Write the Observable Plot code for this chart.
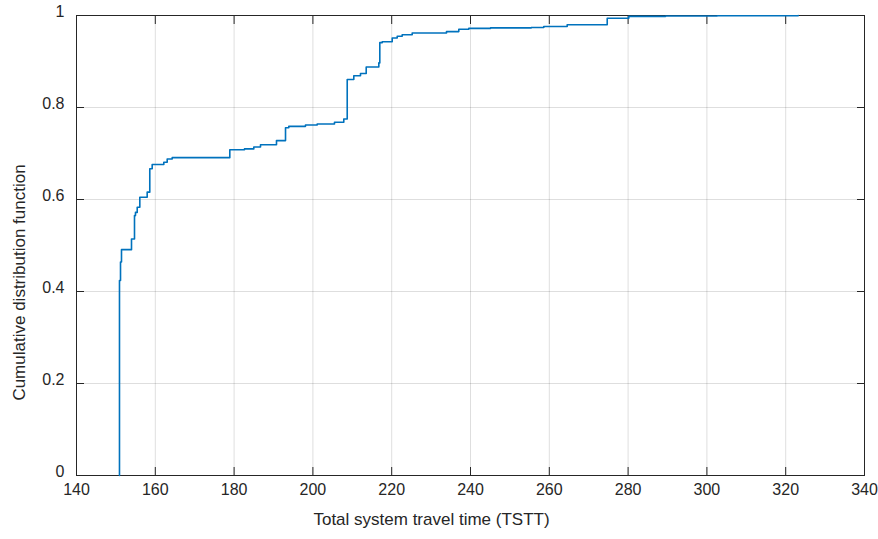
<!DOCTYPE html>
<html>
<head>
<meta charset="utf-8">
<script src="https://cdn.jsdelivr.net/npm/d3@7"></script>
<script src="https://cdn.jsdelivr.net/npm/@observablehq/plot@0.6"></script>
<style>
  html, body { margin: 0; padding: 0; background: #fff; }
  #chart svg { display: block; }
</style>
</head>
<body>
<div id="chart"></div>
<script>
const tsttValues = [150.91, 150.91, 151.17, 151.42, 153.96, 154.72, 154.97, 155.41, 156.07, 157.94,
  158.60, 159.21, 162.16, 163.02, 164.29, 178.91, 182.64, 185.00, 186.70, 190.76,
  193.05, 193.88, 198.12, 201.09, 205.48, 207.84, 208.71, 210.38, 212.08, 213.53,
  216.73, 216.98, 217.59, 220.13, 221.40, 222.66, 225.20, 233.91, 237.03, 239.57,
  245.08, 255.41, 258.60, 264.54, 274.70, 280.18, 289.49, 302.61, 323.17];
const cdfValues = [0, 0.424, 0.464, 0.491, 0.514, 0.565, 0.572, 0.583, 0.605, 0.616,
  0.667, 0.676, 0.681, 0.688, 0.691, 0.708, 0.710, 0.714, 0.719, 0.728,
  0.756, 0.759, 0.762, 0.764, 0.768, 0.775, 0.861, 0.869, 0.874, 0.888,
  0.897, 0.941, 0.943, 0.951, 0.955, 0.958, 0.962, 0.965, 0.970, 0.972,
  0.973, 0.974, 0.976, 0.980, 0.994, 0.998, 0.999, 0.9995, 1.0];

const xTicks = [140, 160, 180, 200, 220, 240, 260, 280, 300, 320, 340];
const yTicks = [0, 0.2, 0.4, 0.6, 0.8, 1];
const yTickLabels = ["0", "0.2", "0.4", "0.6", "0.8", "1"];
const xLabel = "Total system travel time (TSTT)";
const yLabel = "Cumulative distribution function";

const data = tsttValues.map((x, i) => ({x, y: cdfValues[i]}));

const ink = "#262626";
const font = "'Liberation Sans', Arial, Helvetica, sans-serif";

const chart = Plot.plot({
  width: 878,
  height: 539,
  marginLeft: 76,
  marginRight: 14,
  marginTop: 15,
  marginBottom: 64,
  style: {fontFamily: font, fontSize: "16px", color: ink, background: "#fff"},
  x: {domain: [140, 340], ticks: xTicks},
  y: {domain: [0, 1], ticks: yTicks},
  marks: [
    Plot.gridX(xTicks, {stroke: "#000", strokeOpacity: 0.13}),
    Plot.gridY(yTicks, {stroke: "#000", strokeOpacity: 0.13}),
    Plot.frame({stroke: ink, strokeWidth: 1}),
    // inward ticks
    Plot.axisX(xTicks, {anchor: "bottom", fill: "none", stroke: ink, tickSize: 8, dy: -8, label: null}),
    Plot.axisX(xTicks, {anchor: "top", fill: "none", stroke: ink, tickSize: 8, dy: 8, label: null}),
    Plot.axisY(yTicks, {anchor: "left", fill: "none", stroke: ink, tickSize: 8, dx: 8, label: null}),
    Plot.axisY(yTicks, {anchor: "right", fill: "none", stroke: ink, tickSize: 8, dx: -8, label: null}),
    // tick labels
    Plot.axisX(xTicks, {anchor: "bottom", stroke: "none", tickSize: 0, tickPadding: 8, fill: ink, label: null, fontSize: 16}),
    Plot.axisY(yTicks, {anchor: "left", stroke: "none", tickSize: 0, tickPadding: 12, dy: -4, fill: ink, label: null, fontSize: 16,
      tickFormat: (d) => yTickLabels[yTicks.indexOf(d)]}),
    // axis titles
    Plot.text([xLabel], {frameAnchor: "bottom", text: (d) => d, dy: 49, dx: -39, fill: ink, fontSize: 17}),
    Plot.text([yLabel], {frameAnchor: "left", textAnchor: "middle", text: (d) => d, rotate: -90, dx: -57, dy: 37, fill: ink, fontSize: 17}),
    // ECDF
    Plot.line(data, {x: "x", y: "y", curve: "step-after", stroke: "#0072BD", strokeWidth: 1.6})
  ]
});
document.getElementById("chart").appendChild(chart);
</script>
</body>
</html>
